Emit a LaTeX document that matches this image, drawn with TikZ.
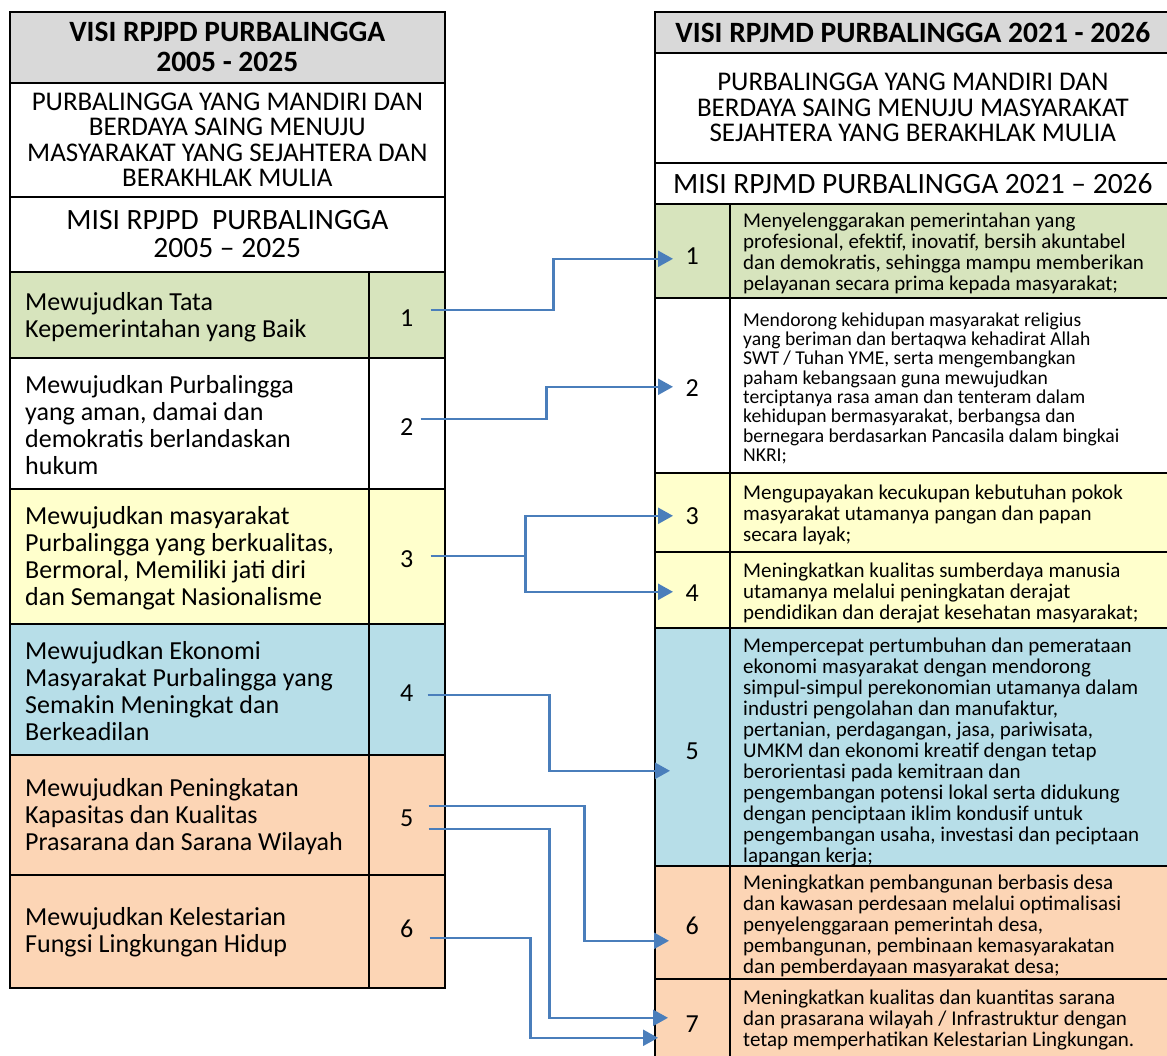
\documentclass[tikz,border=0pt]{standalone}
\usepackage{fontspec}
\setmainfont{Carlito}
\usetikzlibrary{arrows.meta,calc}
\definecolor{hdrgray}{HTML}{D9D9D9}
\definecolor{cgreen}{HTML}{D7E4BD}
\definecolor{cyellow}{HTML}{FFFFCC}
\definecolor{cblue}{HTML}{B7DEE8}
\definecolor{corange}{HTML}{FCD5B5}
\definecolor{arrowc}{HTML}{4A7EBB}
\begin{document}
\begin{tikzpicture}[x=1pt,y=-1pt,
  box/.style={draw=black, line width=1.6pt, rectangle, inner sep=0pt, anchor=north west},
  hdr/.style={box, fill=hdrgray, align=center, font=\bfseries\fontsize{29.5}{30}\selectfont},
  vis/.style={box, fill=white, align=center, font=\fontsize{27}{25.5}\selectfont},
  mis/.style={box, fill=white, align=center, font=\fontsize{29.5}{28}\selectfont},
  lcell/.style={box, minimum width=359pt},
  lnum/.style={box, minimum width=76pt},
  rcell/.style={box, minimum width=441pt},
  rnum/.style={box, minimum width=75pt},
  numtxt/.style={anchor=center, inner sep=0pt, font=\fontsize{26}{26}\selectfont},
  ltxt/.style={anchor=west, inner sep=0pt, align=left, font=\fontsize{26}{27}\selectfont},
  rtxt/.style={anchor=west, inner sep=0pt, align=left, font=\fontsize{21}{21}\selectfont},
  conn/.style={draw=arrowc, line width=2.3pt, -{Triangle[length=15pt,width=16pt]}}
]
\useasboundingbox (0,0) rectangle (1167,1056);
% ---------- left table ----------
\node[hdr, minimum width=435pt, minimum height=71pt] (lh) at (9,11) {VISI RPJPD PURBALINGGA\\2005 - 2025};
\node[vis, minimum width=435pt, minimum height=114pt] (lv) at (9,82) {PURBALINGGA YANG MANDIRI DAN\\BERDAYA SAING MENUJU\\MASYARAKAT YANG SEJAHTERA DAN\\BERAKHLAK MULIA};
\node[mis, minimum width=435pt, minimum height=75pt] (lm) at (9,196) {MISI RPJPD\ \ PURBALINGGA\\2005 -- 2025};

\node[lcell, fill=cgreen, minimum height=86pt] (lc1) at (9,271) {};
\node[lnum, fill=cgreen, minimum height=86pt] (ln1) at (368,271) {};
\node[lcell, fill=white, minimum height=131pt] (lc2) at (9,357) {};
\node[lnum, fill=white, minimum height=131pt] (ln2) at (368,357) {};
\node[lcell, fill=cyellow, minimum height=135pt] (lc3) at (9,488) {};
\node[lnum, fill=cyellow, minimum height=135pt] (ln3) at (368,488) {};
\node[lcell, fill=cblue, minimum height=131pt] (lc4) at (9,623) {};
\node[lnum, fill=cblue, minimum height=131pt] (ln4) at (368,623) {};
\node[lcell, fill=corange, minimum height=120pt] (lc5) at (9,754) {};
\node[lnum, fill=corange, minimum height=120pt] (ln5) at (368,754) {};
\node[lcell, fill=corange, minimum height=113pt] (lc6) at (9,874) {};
\node[lnum, fill=corange, minimum height=113pt] (ln6) at (368,874) {};

\node[numtxt] (lk1) at ($(ln1.center)+(0,3)$) {1};
\node[numtxt] (lk2) at ($(ln2.center)+(0,4)$) {2};
\node[numtxt] (lk3) at ($(ln3.center)+(0,3)$) {3};
\node[numtxt] (lk4) at ($(ln4.center)+(0,4)$) {4};
\node[numtxt] (lk5) at ($(ln5.center)+(0,3)$) {5};
\node[numtxt] (lk6) at ($(ln6.center)+(0,-2)$) {6};

\node[ltxt] (lt1) at ($(lc1.west)+(16,2)$) {Mewujudkan Tata\\Kepemerintahan yang Baik};
\node[ltxt] (lt2) at ($(lc2.west)+(16,2)$) {Mewujudkan Purbalingga\\yang aman, damai dan\\demokratis berlandaskan\\hukum};
\node[ltxt] (lt3) at ($(lc3.west)+(16,2)$) {Mewujudkan masyarakat\\Purbalingga yang berkualitas,\\Bermoral, Memiliki jati diri\\dan Semangat Nasionalisme};
\node[ltxt] (lt4) at ($(lc4.west)+(16,2)$) {Mewujudkan Ekonomi\\Masyarakat Purbalingga yang\\Semakin Meningkat dan\\Berkeadilan};
\node[ltxt] (lt5) at ($(lc5.west)+(16,2)$) {Mewujudkan Peningkatan\\Kapasitas dan Kualitas\\Prasarana dan Sarana Wilayah};
\node[ltxt] (lt6) at ($(lc6.west)+(16,1)$) {Mewujudkan Kelestarian\\Fungsi Lingkungan Hidup};

% ---------- right table ----------
\node[hdr, minimum width=516pt, minimum height=41pt] (rh) at (654,11) {VISI RPJMD PURBALINGGA 2021 - 2026};
\node[vis, minimum width=516pt, minimum height=110pt] (rv) at (654,52) {PURBALINGGA YANG MANDIRI DAN\\BERDAYA SAING MENUJU MASYARAKAT\\SEJAHTERA YANG BERAKHLAK MULIA};
\node[mis, minimum width=516pt, minimum height=41pt] (rm) at (654,162) {MISI RPJMD PURBALINGGA 2021 -- 2026};

\node[rcell, fill=cgreen, minimum height=94pt] (rc1) at (729,203) {};
\node[rnum, fill=cgreen, minimum height=94pt] (rn1) at (654,203) {};
\node[rcell, fill=white, minimum height=175pt] (rc2) at (729,297) {};
\node[rnum, fill=white, minimum height=175pt] (rn2) at (654,297) {};
\node[rcell, fill=cyellow, minimum height=79pt] (rc3) at (729,472) {};
\node[rnum, fill=cyellow, minimum height=79pt] (rn3) at (654,472) {};
\node[rcell, fill=cyellow, minimum height=76pt] (rc4) at (729,551) {};
\node[rnum, fill=cyellow, minimum height=76pt] (rn4) at (654,551) {};
\node[rcell, fill=cblue, minimum height=238pt] (rc5) at (729,627) {};
\node[rnum, fill=cblue, minimum height=238pt] (rn5) at (654,627) {};
\node[rcell, fill=corange, minimum height=113pt] (rc6) at (729,865) {};
\node[rnum, fill=corange, minimum height=113pt] (rn6) at (654,865) {};
\node[rcell, fill=corange, minimum height=82pt] (rc7) at (729,978) {};
\node[rnum, fill=corange, minimum height=82pt] (rn7) at (654,978) {};

\node[numtxt] (rk1) at ($(rn1.center)+(0,5)$) {1};
\node[numtxt] (rk2) at ($(rn2.center)+(0,3)$) {2};
\node[numtxt] (rk3) at ($(rn3.center)+(0,4)$) {3};
\node[numtxt] (rk4) at ($(rn4.center)+(0,3)$) {4};
\node[numtxt] (rk5) at ($(rn5.center)+(0,4)$) {5};
\node[numtxt] (rk6) at ($(rn6.center)+(0,4)$) {6};
\node[numtxt] (rk7) at ($(rn7.center)+(0,4)$) {7};

\node[rtxt] (rt1) at ($(rc1.west)+(14,3)$) {Menyelenggarakan pemerintahan yang\\profesional, efektif, inovatif, bersih akuntabel\\dan demokratis, sehingga mampu memberikan\\pelayanan secara prima kepada masyarakat;};
\node[rtxt, font=\fontsize{19.6}{19.3}\selectfont] (rt2) at ($(rc2.west)+(14,3)$) {Mendorong kehidupan masyarakat religius\\yang beriman dan bertaqwa kehadirat Allah\\SWT / Tuhan YME, serta mengembangkan\\paham kebangsaan guna mewujudkan\\terciptanya rasa aman dan tenteram dalam\\kehidupan bermasyarakat, berbangsa dan\\bernegara berdasarkan Pancasila dalam bingkai\\NKRI;};
\node[rtxt] (rt3) at ($(rc3.west)+(14,3)$) {Mengupayakan kecukupan kebutuhan pokok\\masyarakat utamanya pangan dan papan\\secara layak;};
\node[rtxt] (rt4) at ($(rc4.west)+(14,3)$) {Meningkatkan kualitas sumberdaya manusia\\utamanya melalui peningkatan derajat\\pendidikan dan derajat kesehatan masyarakat;};
\node[rtxt] (rt5) at ($(rc5.west)+(14,5)$) {Mempercepat pertumbuhan dan pemerataan\\ekonomi masyarakat dengan mendorong\\simpul-simpul perekonomian utamanya dalam\\industri pengolahan dan manufaktur,\\pertanian, perdagangan, jasa, pariwisata,\\UMKM dan ekonomi kreatif dengan tetap\\berorientasi pada kemitraan dan\\pengembangan potensi lokal serta didukung\\dengan penciptaan iklim kondusif untuk\\pengembangan usaha, investasi dan peciptaan\\lapangan kerja;};
\node[rtxt] (rt6) at ($(rc6.west)+(14,4)$) {Meningkatkan pembangunan berbasis desa\\dan kawasan perdesaan melalui optimalisasi\\penyelenggaraan pemerintah desa,\\pembangunan, pembinaan kemasyarakatan\\dan pemberdayaan masyarakat desa;};
\node[rtxt] (rt7) at ($(rc7.west)+(14,0)$) {Meningkatkan kualitas dan kuantitas sarana\\dan prasarana wilayah / Infrastruktur dengan\\tetap memperhatikan Kelestarian Lingkungan.};

% ---------- connectors ----------
\draw[conn] ($(ln1.east)+(-15,-5)$) -- ++(123,0) |- ($(rn1.west)+(19,8)$);
\draw[conn] ($(ln2.east)+(-25,-4.5)$) -- ++(126,0) |- ($(rn2.west)+(19,1.5)$);
\coordinate (j3) at ($(ln3.east)+(80,0)$);
\draw[draw=arrowc, line width=2.3pt] ($(ln3.east)+(-15,0)$) -- (j3);
\draw[conn] (j3) |- ($(rn3.west)+(19,3.5)$);
\draw[conn] (j3) |- ($(rn4.west)+(19,2)$);
\draw[conn] ($(ln4.east)+(-18,5.5)$) -- ++(122,0) |- ($(rn5.west)+(16,24)$);
\draw[conn] ($(ln5.east)+(-17,-9)$) -- ++(156,0) |- ($(rn6.west)+(15,18.5)$);
\draw[conn] ($(ln5.east)+(-17,14)$) -- ++(121,0) |- ($(rn7.west)+(14,-2)$);
\draw[conn] ($(ln6.east)+(-16,6.5)$) -- ++(101,0) |- ($(rn7.west)+(4,18)$);
\end{tikzpicture}
\end{document}
